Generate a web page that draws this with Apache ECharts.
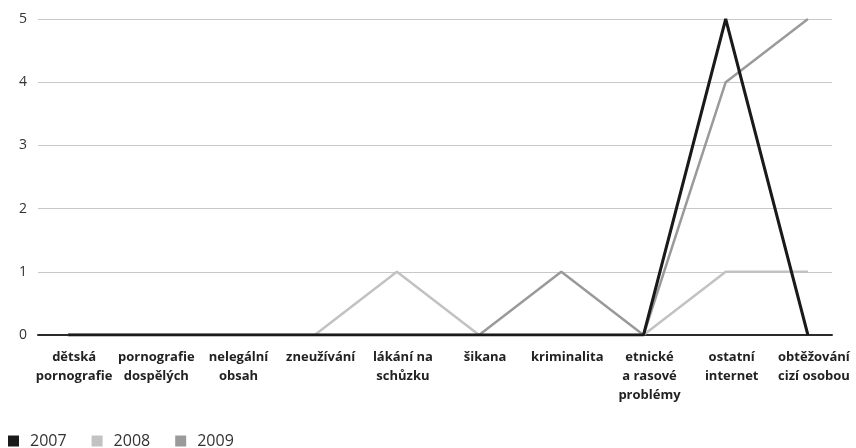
<!DOCTYPE html>
<html>
<head>
<meta charset="utf-8">
<script src="https://cdn.jsdelivr.net/npm/echarts@6/dist/echarts.min.js"></script>
<style>
  html, body { margin: 0; padding: 0; background: #fff; }
  #chart { width: 856px; height: 448px; }
</style>
</head>
<body>
<div id="chart"></div>
<script>
const categories = [
  'dětská\npornografie', 'pornografie\ndospělých', 'nelegální\nobsah', 'zneužívání',
  'lákání na\nschůzku', 'šikana', 'kriminalita', 'etnické\na rasové\nproblémy',
  'ostatní\ninternet', 'obtěžování\ncizí osobou'
]
const years = ['2007', '2008', '2009']
const values2007 = [0, 0, 0, 0, 0, 0, 0, 0, 5, 0]
const values2008 = [0, 0, 0, 0, 1, 0, 0, 0, 1, 1]
const values2009 = [0, 0, 0, 0, 0, 0, 1, 0, 4, 5]
const yTicks = { min: 0, max: 5, step: 1 }

const colors = { '2007': '#1a1a1a', '2008': '#c2c2c2', '2009': '#9a9a9a' }
const font = '"Open Sans", Lato, sans-serif'

const chart = echarts.init(document.getElementById('chart'))

function line(name, data, width, z) {
  return {
    name,
    type: 'line',
    xAxisIndex: 0,
    yAxisIndex: 0,
    data,
    symbol: 'none',
    z,
    lineStyle: { color: colors[name], width },
    itemStyle: { color: colors[name] },
  }
}

chart.setOption({
  animation: false,
  backgroundColor: '#fff',
  textStyle: { fontFamily: font },
  grid: [
    { left: 27, right: 7, top: 19, bottom: 113 },   // data
    { left: 38, right: 24, top: 19, bottom: 113 },  // gridlines + y labels
  ],
  legend: {
    data: years,
    left: 8,
    top: 433,
    padding: 0,
    icon: 'rect',
    itemWidth: 11,
    itemHeight: 11,
    itemGap: 25,
    textStyle: { fontSize: 16, color: '#333', fontFamily: font, padding: [0, 0, 0, 6] },
  },
  xAxis: [
    {
      type: 'category',
      gridIndex: 0,
      data: categories,
      boundaryGap: true,
      axisLine: { show: false },
      axisTick: { show: false },
      axisLabel: {
        interval: 0,
        margin: 13,
        color: '#222',
        fontWeight: 'bold',
        fontSize: 13,
        lineHeight: 19,
        fontFamily: font,
        padding: [0, 0, 0, 12],
      },
    },
    {
      type: 'value',
      gridIndex: 1,
      min: 0,
      max: 1,
      axisLine: { show: true, lineStyle: { color: '#2a2a2a', width: 2 } },
      axisTick: { show: false },
      axisLabel: { show: false },
      splitLine: { show: false },
    },
  ],
  yAxis: [
    {
      type: 'value',
      gridIndex: 0,
      min: yTicks.min,
      max: yTicks.max,
      interval: yTicks.step,
      axisLine: { show: false },
      axisTick: { show: false },
      axisLabel: { show: false },
      splitLine: { show: false },
    },
    {
      type: 'value',
      gridIndex: 1,
      min: yTicks.min,
      max: yTicks.max,
      interval: yTicks.step,
      axisLine: { show: false },
      axisTick: { show: false },
      axisLabel: { color: '#333', fontSize: 14, margin: 11, fontFamily: font },
      splitLine: { show: true, lineStyle: { color: '#c8c8c8', width: 1 } },
    },
  ],
  series: [
    line('2008', values2008, 2.5, 2),
    line('2009', values2009, 2.5, 3),
    line('2007', values2007, 3, 4),
  ],
})
</script>
</body>
</html>
